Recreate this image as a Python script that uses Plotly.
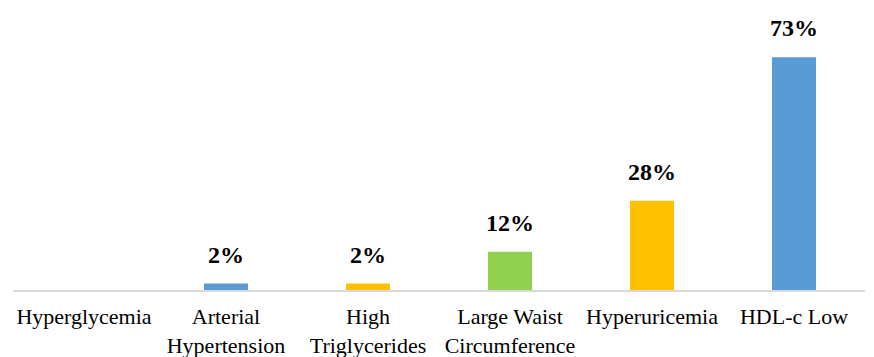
import plotly.graph_objects as go

categories = ["Hyperglycemia", "Arterial<br>Hypertension", "High<br>Triglycerides",
              "Large Waist<br>Circumference", "Hyperuricemia", "HDL-c Low"]
values = [0, 2, 2, 12, 28, 73]
labels = ["", "2%", "2%", "12%", "28%", "73%"]
colors = ["#5B9BD5", "#5B9BD5", "#FFC000", "#92D050", "#FFC000", "#5B9BD5"]

FONT = "'Liberation Serif', 'Times New Roman', Times, serif"

fig = go.Figure(go.Bar(x=categories, y=values, marker_color=colors, width=0.31,
                       marker_line_width=0, hoverinfo="skip"))

for c, v, t in zip(categories, values, labels):
    if t:
        fig.add_annotation(x=c, y=v, text="<b>%s</b>" % t, showarrow=False,
                           yanchor="bottom", yshift=14,
                           font=dict(family=FONT, size=24, color="#000000"))

fig.update_layout(
    width=874, height=357,
    margin=dict(l=13, r=9, t=10, b=67),
    plot_bgcolor="white", paper_bgcolor="white",
    showlegend=False,
    font=dict(family=FONT, size=22, color="#000000"),
    xaxis=dict(showline=True, linecolor="#D9D9D9", linewidth=2, ticks="",
               showgrid=False, ticklabelstandoff=6, automargin=False,
               tickfont=dict(family=FONT, size=22)),
    yaxis=dict(range=[0, 87.8], visible=False, showgrid=False, zeroline=False),
)

fig.write_html("out.html")
